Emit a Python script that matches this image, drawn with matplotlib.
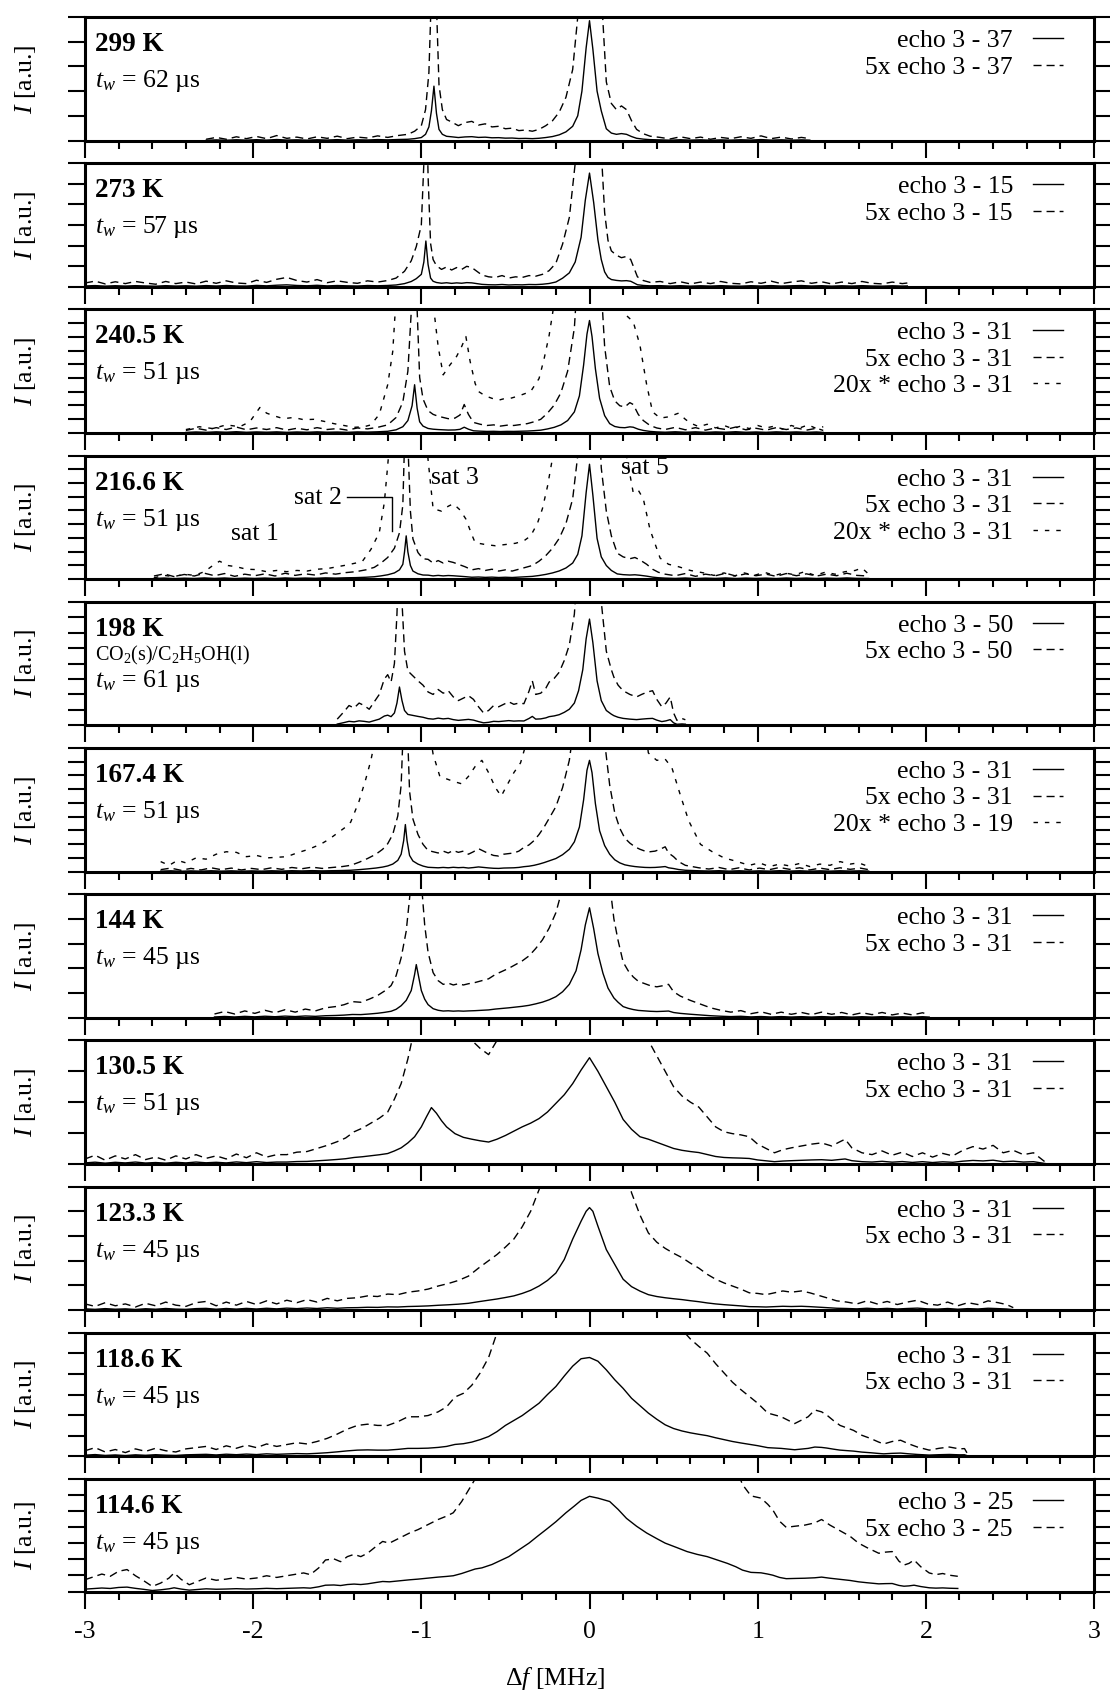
import matplotlib
matplotlib.use("Agg")
import matplotlib.pyplot as plt
import numpy as np
from matplotlib.ticker import MultipleLocator

plt.rcParams.update({
    "font.family": "Liberation Serif",
    "mathtext.fontset": "custom",
    "mathtext.rm": "Liberation Serif",
    "mathtext.it": "Liberation Serif:italic",
    "mathtext.bf": "Liberation Serif:bold",
    "axes.unicode_minus": False,
    "lines.scale_dashes": False,
})

# ---------------------------------------------------------------- spectra
# intensities in % of each panel's full scale (1x echo sum);
# "star" series are the separately processed traces drawn at 20x

F299 = [-2.28, -2.22, -2.16, -2.10, -2.04, -1.98, -1.92, -1.86, -1.80, -1.74,
        -1.68, -1.62, -1.56, -1.50, -1.44, -1.38, -1.32, -1.26, -1.20, -1.14,
        -1.08, -1.04, -1.00, -0.975, -0.955, -0.94, -0.925, -0.91, -0.895, -0.875,
        -0.85, -0.82, -0.78, -0.74, -0.70, -0.66, -0.62, -0.58, -0.54, -0.50,
        -0.46, -0.42, -0.38, -0.34, -0.30, -0.26, -0.22, -0.18, -0.14, -0.10,
        -0.07, -0.045, -0.02, 0.0, 0.02, 0.045, 0.07, 0.10, 0.13, 0.16,
        0.19, 0.22, 0.25, 0.28, 0.32, 0.36, 0.42, 0.48, 0.54, 0.60,
        0.66, 0.72, 0.78, 0.84, 0.90, 0.96, 1.02, 1.08, 1.14, 1.20,
        1.26, 1.31]
I299 = [0.2, 0.5, 0.2, 0.6, 0.3, 0.65, 0.3, 0.8, 0.35, 0.55,
        0.25, 0.6, 0.35, 0.7, 0.3, 0.55, 0.4, 0.75, 0.5, 0.8,
        1.0, 1.5, 2.4, 5.0, 11, 24, 44, 22, 9, 5,
        3.4, 3.0, 2.4, 2.9, 3.1, 2.5, 2.7, 2.2, 2.3, 1.9,
        2.0, 1.6, 1.7, 1.5, 1.8, 2.4, 3.2, 4.6, 7.0, 11.5,
        20, 40, 75, 97, 74, 40, 24, 9.5, 6.0, 5.0,
        5.6, 5.0, 3.2, 1.8, 1.1, 0.7, 0.5, 0.25, 0.6, 0.3,
        0.55, 0.2, 0.5, 0.3, 0.6, 0.35, 0.75, 0.3, 0.55, 0.25,
        0.5, 0.3]

F273 = [-3.00, -2.94, -2.88, -2.82, -2.76, -2.70, -2.64, -2.58, -2.52, -2.46,
        -2.40, -2.34, -2.28, -2.22, -2.16, -2.10, -2.04, -1.98, -1.92, -1.86,
        -1.80, -1.74, -1.68, -1.62, -1.56, -1.50, -1.44, -1.38, -1.32, -1.26,
        -1.20, -1.15, -1.10, -1.06, -1.03, -1.00, -0.985, -0.973, -0.96, -0.945,
        -0.93, -0.91, -0.88, -0.85, -0.82, -0.79, -0.76, -0.73, -0.70, -0.67,
        -0.64, -0.60, -0.56, -0.52, -0.48, -0.44, -0.40, -0.36, -0.32, -0.28,
        -0.24, -0.20, -0.16, -0.12, -0.085, -0.05, -0.025, 0.0, 0.025, 0.05,
        0.07, 0.09, 0.11, 0.13, 0.16, 0.19, 0.22, 0.245, 0.265, 0.285,
        0.32, 0.36, 0.42, 0.48, 0.54, 0.60, 0.66, 0.72, 0.78, 0.84,
        0.90, 0.96, 1.02, 1.08, 1.14, 1.20, 1.26, 1.32, 1.38, 1.44,
        1.50, 1.56, 1.62, 1.68, 1.74, 1.80, 1.86, 1.89]
I273 = [0.6, 0.9, 0.45, 0.8, 0.5, 0.85, 0.6, 0.4, 0.85, 0.5,
        0.75, 0.45, 0.9, 0.55, 0.95, 0.6, 0.5, 1.05, 0.7, 1.2,
        1.5, 1.0, 0.75, 1.15, 0.65, 0.95, 0.7, 0.55, 0.95, 0.75,
        1.0, 1.4, 2.5, 4.2, 6.5, 10, 20, 37, 18, 7,
        4.4, 3.4, 2.8, 3.2, 2.7, 3.1, 2.8, 3.3, 3.1, 2.5,
        1.9, 1.6, 1.5, 1.8, 1.4, 1.6, 1.5, 1.8, 1.7, 2.0,
        2.6, 3.8, 6.9, 11.2, 20, 40, 70, 92, 68, 38,
        22, 12, 7.5, 5.8, 5.1, 4.7, 4.9, 4.4, 3.0, 1.6,
        1.0, 0.7, 0.85, 0.5, 0.8, 0.45, 0.75, 0.5, 0.85, 0.55,
        0.45, 0.8, 0.55, 0.9, 0.5, 0.75, 0.95, 0.55, 0.8, 0.45,
        0.75, 0.5, 0.85, 0.55, 0.45, 0.75, 0.5, 0.6]

F240 = [-2.40, -2.34, -2.28, -2.22, -2.16, -2.10, -2.04, -1.98, -1.92, -1.86,
        -1.80, -1.74, -1.68, -1.62, -1.56, -1.50, -1.44, -1.38, -1.32, -1.26,
        -1.20, -1.15, -1.11, -1.08, -1.055, -1.04, -1.025, -1.01, -0.99, -0.96,
        -0.93, -0.90, -0.87, -0.84, -0.80, -0.77, -0.745, -0.72, -0.69, -0.65,
        -0.61, -0.57, -0.53, -0.49, -0.45, -0.41, -0.37, -0.33, -0.29, -0.25,
        -0.21, -0.17, -0.13, -0.09, -0.06, -0.035, -0.015, 0.0, 0.015, 0.035,
        0.06, 0.09, 0.12, 0.15, 0.18, 0.21, 0.24, 0.26, 0.29, 0.32,
        0.36, 0.40, 0.45, 0.51, 0.57, 0.63, 0.69, 0.75, 0.81, 0.87,
        0.93, 0.99, 1.05, 1.11, 1.17, 1.23, 1.29, 1.35, 1.39]
I240 = [0.4, 0.75, 0.45, 0.85, 0.55, 0.95, 0.5, 0.8, 0.55, 0.85,
        0.45, 0.75, 0.5, 0.85, 0.55, 0.7, 0.45, 0.8, 0.65, 0.9,
        1.3, 2.5, 5.0, 10, 22, 39, 20, 9, 5.5, 3.6,
        3.0, 2.7, 2.5, 2.3, 2.4, 2.9, 4.6, 3.0, 1.7, 1.4,
        1.2, 1.3, 1.1, 1.25, 1.2, 1.35, 1.5, 1.8, 2.2, 3.2,
        4.5, 6.5, 10, 17, 30, 55, 80, 91, 78, 52,
        28, 14, 7.5, 5.2, 4.4, 4.2, 4.9, 4.6, 3.0, 2.0,
        1.2, 0.8, 0.55, 0.9, 0.5, 0.85, 0.45, 0.8, 0.55, 0.95,
        0.5, 0.75, 0.45, 0.85, 0.55, 0.8, 0.45, 0.75, 0.4]
FS240 = [-2.40, -2.32, -2.24, -2.16, -2.08, -2.02, -1.96, -1.92, -1.88, -1.82,
         -1.76, -1.70, -1.64, -1.58, -1.52, -1.46, -1.40, -1.34, -1.30, -1.25,
         -1.20, -1.17, -1.15, -1.10, -1.04, -0.98, -0.93, -0.90, -0.87, -0.83,
         -0.79, -0.76, -0.735, -0.71, -0.68, -0.66, -0.62, -0.58, -0.54, -0.50,
         -0.47, -0.42, -0.38, -0.35, -0.30, -0.27, -0.24, -0.21, -0.15, 0.0,
         0.12, 0.18, 0.22, 0.26, 0.30, 0.34, 0.375, 0.42, 0.47, 0.53,
         0.57, 0.60, 0.65, 0.70, 0.75, 0.80, 0.85, 0.90, 0.95, 1.00,
         1.05, 1.10, 1.15, 1.20, 1.25, 1.30, 1.35, 1.39]
IS240 = [0.135, 0.25, 0.175, 0.325, 0.25, 0.45, 1.03, 0.8, 0.7, 0.575,
         0.625, 0.535, 0.55, 0.47, 0.375, 0.3, 0.225, 0.25, 0.325, 0.75,
         1.95, 3.3, 5.5, 15, 40, 15, 5.25, 3.5, 2.35, 2.75,
         3.1, 3.5, 3.9, 2.9, 2.0, 1.675, 1.5, 1.4, 1.325, 1.4,
         1.4, 1.5, 1.6, 1.675, 2.2, 3.0, 3.95, 5.25, 10, 90,
         10, 5.5, 4.75, 4.5, 3.55, 1.95, 0.85, 0.6, 0.65, 0.8,
         0.55, 0.4, 0.25, 0.35, 0.2, 0.3, 0.175, 0.275, 0.175, 0.3,
         0.2, 0.275, 0.15, 0.3, 0.2, 0.325, 0.175, 0.25]

F216 = [-2.59, -2.53, -2.47, -2.41, -2.35, -2.29, -2.23, -2.17, -2.11, -2.05,
        -1.99, -1.93, -1.87, -1.81, -1.75, -1.69, -1.63, -1.57, -1.51, -1.45,
        -1.39, -1.33, -1.28, -1.24, -1.20, -1.16, -1.13, -1.11, -1.10, -1.09,
        -1.08, -1.065, -1.05, -1.02, -0.99, -0.96, -0.93, -0.90, -0.87, -0.84,
        -0.81, -0.78, -0.74, -0.70, -0.66, -0.62, -0.58, -0.54, -0.50, -0.46,
        -0.42, -0.38, -0.34, -0.30, -0.26, -0.22, -0.18, -0.14, -0.10, -0.07,
        -0.045, -0.02, 0.0, 0.02, 0.045, 0.07, 0.10, 0.13, 0.165, 0.20,
        0.24, 0.27, 0.30, 0.34, 0.375, 0.41, 0.45, 0.51, 0.57, 0.63,
        0.69, 0.75, 0.81, 0.87, 0.93, 0.99, 1.05, 1.11, 1.17, 1.23,
        1.29, 1.35, 1.41, 1.47, 1.53, 1.59, 1.66]
I216 = [0.5, 0.85, 0.4, 0.75, 0.5, 0.95, 0.55, 0.9, 0.45, 0.8,
        0.55, 0.85, 0.5, 0.95, 0.6, 0.85, 0.65, 1.0, 0.8, 1.05,
        1.2, 1.5, 1.9, 2.6, 3.5, 5.0, 7.5, 12, 22, 35,
        22, 11, 6.5, 4.3, 3.3, 3.2, 2.6, 3.0, 2.6, 2.9,
        2.7, 2.4, 2.0, 1.5, 1.7, 1.4, 1.6, 1.3, 1.5, 1.3,
        1.6, 1.9, 2.2, 2.9, 3.8, 5.0, 6.6, 9.0, 13, 20,
        35, 70, 93, 68, 33, 18, 11, 7.0, 4.2, 3.6,
        3.3, 3.5, 3.1, 2.4, 1.6, 1.1, 0.8, 0.55, 0.9, 0.45,
        0.8, 0.55, 0.95, 0.5, 0.85, 0.55, 0.8, 0.45, 0.9, 0.55,
        0.85, 0.5, 0.8, 0.55, 0.95, 0.6, 0.5]
FS216 = [-2.59, -2.53, -2.47, -2.41, -2.35, -2.29, -2.24, -2.20, -2.15, -2.10,
         -2.04, -1.98, -1.92, -1.86, -1.80, -1.74, -1.68, -1.62, -1.56, -1.50,
         -1.44, -1.39, -1.35, -1.30, -1.25, -1.22, -1.20, -1.17, -1.10, -1.00,
         -0.97, -0.93, -0.88, -0.84, -0.81, -0.77, -0.735, -0.70, -0.68, -0.62,
         -0.56, -0.50, -0.44, -0.39, -0.35, -0.31, -0.28, -0.25, -0.22, -0.18,
         0.0, 0.18, 0.22, 0.26, 0.29, 0.32, 0.36, 0.42, 0.47, 0.53,
         0.60, 0.68, 0.74, 0.80, 0.86, 0.92, 0.98, 1.04, 1.10, 1.16,
         1.22, 1.28, 1.34, 1.40, 1.46, 1.52, 1.58, 1.62, 1.66]
IS216 = [0.05, 0.15, 0.1, 0.2, 0.15, 0.3, 0.55, 0.725, 0.55, 0.5,
         0.4, 0.385, 0.3, 0.35, 0.3, 0.35, 0.325, 0.4, 0.425, 0.5,
         0.575, 0.65, 0.725, 1.2, 1.885, 3.1, 4.6, 7, 20, 15,
         5.5, 2.85, 2.75, 2.95, 3.05, 2.8, 2.43, 1.8, 1.475, 1.4,
         1.35, 1.4, 1.45, 1.55, 1.75, 2.25, 2.85, 3.75, 4.9, 7,
         90, 6.5, 5, 3.5, 3.6, 3.25, 2, 0.85, 0.6, 0.5,
         0.35, 0.25, 0.15, 0.25, 0.125, 0.25, 0.15, 0.275, 0.15, 0.25,
         0.175, 0.3, 0.15, 0.275, 0.2, 0.3, 0.35, 0.45, 0.2]

F198 = [-1.50, -1.46, -1.43, -1.40, -1.37, -1.34, -1.31, -1.28, -1.25, -1.22,
        -1.20, -1.18, -1.16, -1.145, -1.13, -1.115, -1.10, -1.08, -1.05, -1.02,
        -0.99, -0.96, -0.93, -0.90, -0.87, -0.84, -0.81, -0.78, -0.75, -0.72,
        -0.69, -0.66, -0.63, -0.60, -0.57, -0.54, -0.51, -0.48, -0.45, -0.42,
        -0.39, -0.36, -0.34, -0.32, -0.29, -0.26, -0.24, -0.21, -0.18, -0.15,
        -0.12, -0.09, -0.065, -0.04, -0.02, 0.0, 0.02, 0.045, 0.07, 0.10,
        0.13, 0.145, 0.17, 0.20, 0.24, 0.28, 0.31, 0.345, 0.375, 0.40,
        0.43, 0.455, 0.48, 0.50, 0.52, 0.55, 0.57]
I198 = [1.0, 2.2, 3.2, 2.8, 3.6, 3.2, 2.6, 3.8, 5.0, 7.5,
        8.2, 7.0, 10, 18, 31, 20, 12, 8.8, 8.0, 7.2,
        6.5, 5.4, 5.0, 5.8, 5.2, 5.6, 4.6, 4.0, 4.4, 4.8,
        4.2, 3.0, 2.0, 2.4, 3.2, 3.0, 3.4, 3.8, 3.4, 3.6,
        3.5, 5.5, 7.2, 5.0, 5.2, 6.0, 7.0, 7.6, 8.6, 10.5,
        13, 18, 28, 45, 70, 86, 67, 36, 20, 12,
        9, 7.8, 6.5, 5.6, 5.0, 4.6, 5.0, 5.4, 5.6, 4.2,
        3.0, 3.6, 4.6, 2.0, 0.8, 1.1, 0.9]

F167 = [-2.55, -2.49, -2.43, -2.37, -2.31, -2.25, -2.19, -2.13, -2.07, -2.01,
        -1.95, -1.89, -1.83, -1.77, -1.71, -1.65, -1.59, -1.53, -1.47, -1.42,
        -1.37, -1.32, -1.27, -1.23, -1.20, -1.17, -1.14, -1.12, -1.105, -1.095,
        -1.085, -1.07, -1.05, -1.02, -0.99, -0.96, -0.93, -0.90, -0.87, -0.84,
        -0.81, -0.78, -0.75, -0.72, -0.69, -0.66, -0.63, -0.60, -0.57, -0.54,
        -0.51, -0.48, -0.45, -0.42, -0.39, -0.36, -0.33, -0.30, -0.27, -0.24,
        -0.20, -0.16, -0.12, -0.09, -0.06, -0.035, -0.015, 0.0, 0.015, 0.035,
        0.06, 0.09, 0.12, 0.15, 0.18, 0.21, 0.24, 0.27, 0.30, 0.33,
        0.36, 0.39, 0.42, 0.45, 0.47, 0.50, 0.53, 0.57, 0.61, 0.65,
        0.71, 0.77, 0.83, 0.89, 0.95, 1.01, 1.07, 1.13, 1.19, 1.25,
        1.31, 1.37, 1.43, 1.49, 1.55, 1.61, 1.66]
I167 = [0.3, 0.55, 0.2, 0.5, 0.25, 0.6, 0.3, 0.55, 0.25, 0.5,
        0.3, 0.6, 0.35, 0.65, 0.45, 0.7, 0.5, 0.65, 0.8, 1.0,
        1.5, 2.1, 2.8, 3.6, 4.5, 6.0, 9, 14, 25, 38,
        25, 13, 8.5, 6.0, 4.4, 3.4, 3.2, 3.0, 3.3, 3.0,
        3.4, 3.1, 3.3, 2.8, 3.2, 3.7, 3.3, 2.9, 2.6, 2.5,
        2.8, 2.9, 3.0, 3.3, 3.9, 4.3, 5.0, 6.0, 7.2, 8.6,
        10.5, 13.6, 18, 24, 36, 58, 82, 90, 80, 55,
        33, 21, 14, 9.5, 7.0, 5.4, 4.6, 4.0, 3.6, 3.3,
        3.2, 3.3, 3.6, 4.0, 3.0, 2.4, 1.6, 1.0, 0.8, 0.6,
        0.4, 0.65, 0.3, 0.6, 0.25, 0.55, 0.3, 0.65, 0.35, 0.6,
        0.25, 0.55, 0.3, 0.6, 0.35, 0.55, 0.3]
FS167 = [-2.55, -2.50, -2.45, -2.40, -2.34, -2.28, -2.22, -2.16, -2.10, -2.04,
         -1.98, -1.92, -1.86, -1.80, -1.74, -1.67, -1.60, -1.55, -1.50, -1.45,
         -1.42, -1.37, -1.33, -1.30, -1.27, -1.10, -0.96, -0.93, -0.89, -0.85,
         -0.81, -0.76, -0.72, -0.68, -0.64, -0.60, -0.56, -0.525, -0.49, -0.45,
         -0.41, -0.38, -0.30, 0.0, 0.30, 0.35, 0.40, 0.45, 0.49, 0.54,
         0.59, 0.66, 0.73, 0.80, 0.88, 0.95, 1.01, 1.07, 1.13, 1.19,
         1.25, 1.31, 1.37, 1.43, 1.49, 1.55, 1.60, 1.66]
IS167 = [0.4, 0.25, 0.45, 0.35, 0.55, 0.5, 0.7, 0.8, 0.775, 0.6,
         0.65, 0.55, 0.575, 0.6, 0.75, 0.9, 1.1, 1.3, 1.55, 1.8,
         2.0, 2.85, 3.75, 4.5, 5.5, 40, 6, 4.75, 3.85, 3.75,
         3.65, 3.55, 3.85, 4.25, 4.5, 4.0, 3.4, 3.05, 3.5, 4.0,
         4.4, 5.1, 10, 90, 7.5, 4.8, 4.5, 4.55, 4.2, 3.1,
         2.05, 1.1, 0.8, 0.55, 0.4, 0.25, 0.35, 0.2, 0.3, 0.225,
         0.325, 0.2, 0.3, 0.25, 0.4, 0.3, 0.35, 0.2]

F144 = [-2.23, -2.17, -2.11, -2.05, -1.99, -1.93, -1.87, -1.81, -1.75, -1.69,
        -1.63, -1.57, -1.51, -1.46, -1.41, -1.36, -1.31, -1.26, -1.22, -1.18,
        -1.15, -1.12, -1.09, -1.06, -1.04, -1.03, -1.02, -1.00, -0.98, -0.96,
        -0.93, -0.90, -0.87, -0.84, -0.81, -0.78, -0.75, -0.72, -0.68, -0.64,
        -0.60, -0.56, -0.52, -0.48, -0.44, -0.40, -0.36, -0.32, -0.28, -0.24,
        -0.20, -0.16, -0.12, -0.08, -0.05, -0.025, 0.0, 0.025, 0.05, 0.08,
        0.11, 0.145, 0.17, 0.20, 0.23, 0.26, 0.29, 0.32, 0.36, 0.40,
        0.44, 0.47, 0.50, 0.54, 0.60, 0.66, 0.72, 0.78, 0.84, 0.90,
        0.96, 1.02, 1.08, 1.14, 1.20, 1.26, 1.32, 1.38, 1.44, 1.50,
        1.56, 1.62, 1.68, 1.74, 1.80, 1.86, 1.92, 1.98, 2.02]
I144 = [0.6, 1.0, 0.6, 1.1, 0.7, 1.2, 0.8, 1.3, 0.9, 1.4,
        1.1, 1.6, 1.8, 2.1, 2.6, 2.5, 3.0, 3.6, 4.3, 5.2,
        6.8, 9.7, 14, 22, 35, 43, 36, 22, 15, 10.6,
        7.3, 6.0, 5.4, 5.6, 5.3, 5.5, 5.3, 5.5, 5.7, 6.0,
        6.3, 7.0, 7.5, 8.0, 8.6, 9.2, 10, 11.2, 12.6, 14.5,
        17, 21, 27, 38, 55, 75, 89, 72, 52, 36,
        24, 16, 12.5, 9.0, 7.6, 6.6, 5.9, 5.6, 5.2, 5.0,
        5.2, 5.4, 4.2, 3.5, 2.8, 2.2, 1.6, 1.2, 0.9, 1.15,
        0.65, 0.95, 0.55, 0.9, 0.55, 0.85, 0.5, 0.9, 0.55, 0.85,
        0.45, 0.8, 0.5, 0.85, 0.45, 0.75, 0.45, 0.8, 0.5]

F130 = [-3.00, -2.94, -2.88, -2.82, -2.76, -2.70, -2.64, -2.58, -2.52, -2.46,
        -2.40, -2.34, -2.28, -2.22, -2.16, -2.10, -2.04, -1.98, -1.92, -1.86,
        -1.80, -1.74, -1.68, -1.62, -1.56, -1.50, -1.45, -1.40, -1.35, -1.30,
        -1.25, -1.20, -1.16, -1.12, -1.08, -1.04, -1.00, -0.97, -0.94, -0.91,
        -0.88, -0.85, -0.80, -0.75, -0.70, -0.65, -0.60, -0.55, -0.50, -0.45,
        -0.40, -0.35, -0.30, -0.25, -0.20, -0.15, -0.10, -0.05, 0.0, 0.05,
        0.10, 0.15, 0.20, 0.25, 0.30, 0.35, 0.40, 0.45, 0.50, 0.55,
        0.60, 0.65, 0.70, 0.75, 0.80, 0.85, 0.90, 0.95, 1.00, 1.05,
        1.10, 1.15, 1.20, 1.26, 1.32, 1.38, 1.44, 1.49, 1.52, 1.56,
        1.62, 1.68, 1.74, 1.80, 1.86, 1.92, 1.98, 2.04, 2.10, 2.16,
        2.22, 2.28, 2.34, 2.40, 2.46, 2.52, 2.58, 2.64, 2.71]
I130 = [0.8, 1.4, 0.6, 1.3, 0.8, 1.5, 0.7, 1.1, 0.6, 1.3,
        0.8, 1.5, 0.9, 1.3, 0.8, 1.6, 1.0, 1.8, 1.1, 1.5,
        1.5, 1.9, 2.0, 2.5, 3.0, 3.6, 4.2, 5.2, 5.8, 6.6,
        7.4, 8.4, 10.5, 13, 17, 22, 30, 38, 45.6, 41,
        35, 30, 24.5, 21.5, 20, 18.7, 17.7, 20, 23, 26.5,
        30, 33, 36.7, 42, 49, 56, 65, 76, 86, 75,
        62.5, 50, 36, 28, 22, 20, 17.5, 15, 12.5, 11,
        10, 9.2, 7.6, 6.0, 5.2, 4.9, 4.7, 4.4, 3.2, 2.5,
        1.8, 2.3, 2.6, 2.9, 3.2, 3.4, 2.9, 3.6, 4.0, 2.6,
        1.8, 1.5, 2.1, 1.4, 1.9, 1.2, 1.8, 1.1, 1.7, 1.3,
        2.2, 2.8, 2.4, 3.0, 1.8, 2.2, 1.5, 1.8, 0.3]

F123 = [-3.00, -2.94, -2.88, -2.82, -2.76, -2.70, -2.64, -2.58, -2.52, -2.46,
        -2.40, -2.34, -2.28, -2.22, -2.16, -2.10, -2.04, -1.98, -1.92, -1.86,
        -1.80, -1.74, -1.68, -1.62, -1.56, -1.50, -1.44, -1.38, -1.32, -1.26,
        -1.20, -1.14, -1.08, -1.02, -0.96, -0.90, -0.84, -0.78, -0.72, -0.66,
        -0.60, -0.55, -0.50, -0.45, -0.40, -0.35, -0.30, -0.25, -0.20, -0.15,
        -0.10, -0.05, -0.02, 0.0, 0.02, 0.05, 0.10, 0.15, 0.20, 0.25,
        0.30, 0.35, 0.40, 0.45, 0.50, 0.55, 0.60, 0.65, 0.70, 0.75,
        0.80, 0.85, 0.90, 0.95, 1.00, 1.05, 1.10, 1.15, 1.20, 1.26,
        1.31, 1.36, 1.41, 1.47, 1.53, 1.59, 1.65, 1.71, 1.77, 1.83,
        1.89, 1.95, 2.01, 2.07, 2.13, 2.19, 2.25, 2.31, 2.37, 2.43,
        2.48, 2.52]
I123 = [1.0, 0.6, 1.2, 0.7, 1.0, 0.5, 1.1, 0.7, 1.3, 0.8,
        0.6, 1.2, 1.4, 0.7, 1.3, 0.8, 1.4, 0.9, 1.5, 1.0,
        1.6, 1.2, 1.7, 1.3, 1.9, 1.5, 1.9, 2.0, 2.3, 2.2,
        2.6, 2.5, 2.9, 3.1, 3.4, 3.9, 4.3, 4.8, 5.5, 6.8,
        8.0, 9.0, 10.2, 11.5, 13.5, 16, 19.5, 24, 30, 41,
        57.5, 72, 80, 83, 80, 68, 49, 37, 25, 19,
        15.4, 12.5, 11, 10, 9.2, 8.5, 7.6, 6.8, 5.8, 5.0,
        4.4, 3.9, 3.4, 2.8, 2.7, 2.5, 2.8, 3.1, 2.9, 3.1,
        2.8, 2.4, 2.0, 1.5, 1.3, 1.0, 1.5, 1.0, 1.4, 0.9,
        1.3, 1.6, 1.0, 0.8, 1.3, 0.7, 1.2, 0.9, 1.5, 1.2,
        0.9, 0.4]

F118 = [-3.00, -2.94, -2.88, -2.82, -2.76, -2.70, -2.64, -2.58, -2.52, -2.46,
        -2.40, -2.34, -2.28, -2.22, -2.16, -2.10, -2.04, -1.98, -1.92, -1.86,
        -1.80, -1.74, -1.68, -1.62, -1.56, -1.50, -1.44, -1.38, -1.32, -1.26,
        -1.20, -1.14, -1.08, -1.02, -0.96, -0.90, -0.85, -0.80, -0.75, -0.70,
        -0.65, -0.60, -0.55, -0.50, -0.45, -0.40, -0.35, -0.30, -0.25, -0.20,
        -0.15, -0.10, -0.05, 0.0, 0.05, 0.10, 0.15, 0.20, 0.25, 0.30,
        0.35, 0.40, 0.45, 0.50, 0.55, 0.60, 0.65, 0.70, 0.75, 0.80,
        0.85, 0.90, 0.95, 1.00, 1.06, 1.14, 1.22, 1.30, 1.34, 1.38,
        1.41, 1.45, 1.49, 1.53, 1.57, 1.62, 1.67, 1.72, 1.75, 1.80,
        1.85, 1.90, 1.95, 2.02, 2.08, 2.14, 2.20, 2.23, 2.25]
I118 = [0.9, 1.4, 0.7, 1.1, 0.6, 1.2, 0.8, 1.3, 0.9, 0.7,
        1.2, 1.4, 1.6, 1.1, 1.7, 1.3, 1.8, 1.4, 2.0, 1.6,
        1.9, 2.2, 2.0, 2.4, 2.9, 3.6, 4.4, 5.0, 5.2, 5.0,
        5.0, 5.6, 6.4, 6.4, 6.6, 7.2, 8.0, 9.6, 10.2, 11.5,
        13.5, 16, 20, 25, 29, 33, 38, 43, 50, 56.5,
        65, 73, 79, 80, 77, 70, 62, 55, 47, 41,
        35, 30, 25.5, 22.5, 20.5, 19, 17.8, 16.7, 15, 13.5,
        12, 10.8, 9.7, 8.6, 7.0, 6.4, 5.3, 6.4, 7.5, 7.2,
        6.7, 5.8, 5.0, 4.6, 4.2, 3.4, 2.9, 2.3, 2.0, 2.4,
        2.6, 2.0, 1.5, 1.0, 1.3, 1.5, 1.2, 1.25, 0.3]

F114 = [-3.00, -2.95, -2.90, -2.85, -2.80, -2.75, -2.70, -2.65, -2.60, -2.55,
        -2.50, -2.47, -2.43, -2.38, -2.33, -2.28, -2.22, -2.16, -2.10, -2.04,
        -1.98, -1.92, -1.86, -1.82, -1.76, -1.70, -1.66, -1.61, -1.57, -1.52,
        -1.48, -1.44, -1.40, -1.36, -1.32, -1.27, -1.23, -1.19, -1.15, -1.11,
        -1.07, -1.02, -0.98, -0.94, -0.90, -0.85, -0.81, -0.76, -0.72, -0.68,
        -0.64, -0.58, -0.53, -0.48, -0.42, -0.36, -0.31, -0.25, -0.20, -0.14,
        -0.09, -0.05, 0.0, 0.05, 0.12, 0.17, 0.22, 0.28, 0.34, 0.40,
        0.45, 0.52, 0.58, 0.64, 0.70, 0.76, 0.82, 0.87, 0.91, 0.96,
        1.02, 1.06, 1.09, 1.13, 1.17, 1.22, 1.28, 1.34, 1.38, 1.43,
        1.49, 1.55, 1.60, 1.65, 1.72, 1.76, 1.80, 1.84, 1.87, 1.90,
        1.93, 1.97, 2.02, 2.06, 2.10, 2.14, 2.19]
I114 = [2.1, 2.6, 3.1, 2.7, 3.6, 3.9, 2.8, 1.9, 0.9, 1.5,
        2.4, 3.3, 2.2, 1.2, 1.8, 2.4, 2.0, 2.2, 2.5, 2.2,
        2.4, 2.8, 2.5, 2.7, 3.0, 3.3, 3.0, 4.2, 5.6, 5.8,
        5.3, 6.2, 6.6, 6.2, 6.8, 8.0, 8.9, 8.6, 9.2, 9.8,
        10.4, 11, 11.6, 12.2, 12.8, 13.4, 14, 16, 18, 20,
        21, 24, 27.5, 31, 37, 43, 49, 56, 62, 70,
        76, 81, 84.6, 83, 80, 73, 65, 58, 52, 47,
        43, 39, 35.5, 33, 31, 28, 25, 22, 19, 17,
        16.6, 15.5, 14.5, 12.5, 11.4, 11.6, 11.8, 12.2, 12.8, 11.8,
        10.8, 9.8, 8.6, 7.8, 6.8, 7.0, 7.1, 5.4, 4.7, 5.0,
        5.6, 4.4, 3.3, 3.0, 3.2, 2.9, 2.7]

TEMPS = ["299 K", "273 K", "240.5 K", "216.6 K", "198 K", "167.4 K",
         "144 K", "130.5 K", "123.3 K", "118.6 K", "114.6 K"]
TW_US = [62, 57, 51, 51, 61, 51, 45, 51, 45, 45, 45]
ECHO = ["3 - 37", "3 - 15", "3 - 31", "3 - 31", "3 - 50", "3 - 31",
        "3 - 31", "3 - 31", "3 - 31", "3 - 31", "3 - 25"]
STAR_ECHO = {2: "3 - 31", 3: "3 - 31", 5: "3 - 19"}
SPECTRA = [(F299, I299), (F273, I273), (F240, I240), (F216, I216),
           (F198, I198), (F167, I167), (F144, I144), (F130, I130),
           (F123, I123), (F118, I118), (F114, I114)]
STAR = {2: (FS240, IS240), 3: (FS216, IS216), 5: (FS167, IS167)}
YDIV = [5, 6, 9, 9, 8, 9, 5, 4, 5, 6, 7]

# --------------------------------------------------------------- layout (px)
W, H = 1110, 1691
X0, X1 = 85, 1094
TOPS = [17 + 146.2 * k for k in range(11)]
HEIGHTS = [123.5] * 10 + [112.5]

SOLID = dict(color="k", lw=1.0, ls="-")
DASH5 = dict(color="k", lw=1.0, ls=(0, (5.8, 3.6)))
DASH20 = dict(color="k", lw=1.0, ls=(0, (3.2, 5.0)))
FS = 18.5

fig = plt.figure(figsize=(W / 100, H / 100), dpi=100)


def draw_legend(ax, hpx, rows):
    for i, (label, style) in enumerate(rows):
        yb = 1 - (30 + 26.5 * i) / hpx
        yl = 1 - (21 + 26.5 * i) / hpx
        ax.text(0.9197, yb, label, transform=ax.transAxes, ha="right",
                va="baseline", fontsize=FS)
        ax.plot([0.9395, 0.9693], [yl, yl], transform=ax.transAxes,
                clip_on=False, **style)


for k in range(11):
    top, hpx = TOPS[k], HEIGHTS[k]
    ax = fig.add_axes([X0 / W, 1 - (top + hpx) / H, (X1 - X0) / W, hpx / H])
    last = k == 10
    x, y = np.array(SPECTRA[k][0]), np.array(SPECTRA[k][1])

    if k in STAR:
        xs, ys = np.array(STAR[k][0]), np.array(STAR[k][1])
        ax.plot(xs, 20 * ys, **DASH20)
    ax.plot(x, 5 * y, **DASH5)
    ax.plot(x, y, **SOLID)

    ax.set_xlim(-3, 3)
    ax.set_ylim(0, 100)
    ax.xaxis.set_major_locator(MultipleLocator(1))
    ax.xaxis.set_minor_locator(MultipleLocator(0.2))
    ax.set_yticks(np.linspace(0, 100, YDIV[k] + 1))
    ax.tick_params(axis="x", which="major", direction="out", length=12,
                   width=1.5, top=False, labelbottom=last, labelsize=18.5, pad=9)
    ax.tick_params(axis="x", which="minor", direction="out", length=6,
                   width=1.5, top=False)
    ax.tick_params(axis="y", direction="out", length=12, width=1.5,
                   left=True, right=True, labelleft=False)
    for sp in ax.spines.values():
        sp.set_linewidth(2.2)

    rows = [(f"echo {ECHO[k]}", SOLID), (f"5x echo {ECHO[k]}", DASH5)]
    if k in STAR_ECHO:
        rows.append((f"20x * echo {STAR_ECHO[k]}", DASH20))
    draw_legend(ax, hpx, rows)

    ax.text(0.0099, 1 - 34 / hpx, TEMPS[k], transform=ax.transAxes,
            fontsize=19.5, fontweight="bold", va="baseline")
    tw_y = 70
    if k == 4:
        ax.text(0.0099, 1 - 59 / hpx,
                r"$\mathrm{CO_2(s)/C_2H_5OH(l)}$", transform=ax.transAxes,
                fontsize=14.5, va="baseline")
        tw_y = 85
    ax.text(0.0099, 1 - tw_y / hpx, rf"$t_w$ = {TW_US[k]} µs",
            transform=ax.transAxes, fontsize=FS, va="baseline")

    fig.text(25 / W, 1 - (top + hpx / 2) / H, "$I$ [a.u.]", rotation=90,
             ha="center", va="center", fontsize=18.5)

    if k == 3:
        ax.text(-1.99, 36.8, "sat 1", ha="center", va="center", fontsize=FS)
        ax.text(-1.472, 65.8, "sat 2", ha="right", va="center", fontsize=FS)
        ax.plot([-1.442, -1.175, -1.175], [66.6, 66.6, 39.2], color="k",
                lw=1.0)
        ax.text(-0.80, 81.6, "sat 3", ha="center", va="center", fontsize=FS)
        ax.text(0.33, 89.6, "sat 5", ha="center", va="center", fontsize=FS)

fig.text(555 / W, 1 - 1678 / H, r"Δ$f$ [MHz]", ha="center", va="center",
         fontsize=18.5)

fig.savefig("out.png", dpi=100)
